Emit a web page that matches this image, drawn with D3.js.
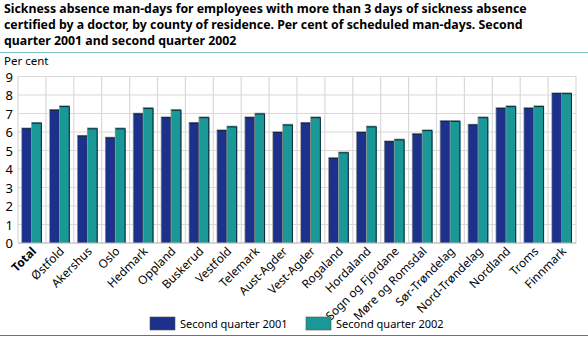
<!DOCTYPE html>
<html>
<head>
<meta charset="utf-8">
<script src="https://cdn.jsdelivr.net/npm/d3@7"></script>
<style>
  body { margin: 0; background: #fff; }
  text { font-family: "Noto Sans", "Open Sans", sans-serif; }
</style>
</head>
<body>
<div id="chart"></div>
<script>
// counties, Total first
var counties = ["Total", "Østfold", "Akershus", "Oslo", "Hedmark", "Oppland", "Buskerud", "Vestfold",
  "Telemark", "Aust-Agder", "Vest-Agder", "Rogaland", "Hordaland", "Sogn og Fjordane",
  "Møre og Romsdal", "Sør-Trøndelag", "Nord-Trøndelag", "Nordland", "Troms", "Finnmark"]

var q2001 = [6.2, 7.2, 5.8, 5.7, 7.0, 6.8, 6.5, 6.1, 6.8, 6.0, 6.5, 4.6, 6.0, 5.5, 5.9, 6.6, 6.4, 7.3, 7.3, 8.1]
var q2002 = [6.5, 7.4, 6.2, 6.2, 7.3, 7.2, 6.8, 6.3, 7.0, 6.4, 6.8, 4.9, 6.3, 5.6, 6.1, 6.6, 6.8, 7.4, 7.4, 8.1]

var seriesNames = ["Second quarter 2001", "Second quarter 2002"]
var seriesColors = ["#1b318b", "#1a9797"]
var yTicks = [0, 1, 2, 3, 4, 5, 6, 7, 8, 9]

var titleLines = ["Sickness absence man-days for employees with more than 3 days of sickness absence",
  "certified by a doctor, by county of residence. Per cent of scheduled man-days. Second",
  "quarter 2001 and second quarter 2002"]

var W = 588, H = 337
var plot = {left: 18, right: 576, top: 76.5, bottom: 243}

var svg = d3.select("#chart").append("svg")
  .attr("width", W).attr("height", H)

// title
svg.selectAll(".title")
  .data(titleLines)
  .enter()
  .append("text")
  .attr("class", "title")
  .attr("x", 4)
  .attr("y", function(d, i){ return 13 + i * 16 })
  .style("font-size", "12.3px")
  .style("font-weight", "bold")
  .attr("fill", "#000")
  .text(function(d){ return d })

svg.append("line")
  .attr("x1", 0).attr("x2", W).attr("y1", 52.5).attr("y2", 52.5)
  .attr("stroke", "#7cc2c2").attr("stroke-width", 1)

svg.append("text").text("Per cent")
  .attr("x", 4).attr("y", 65)
  .style("font-size", "11.5px")

var x = d3.scaleBand().domain(counties).range([plot.left, plot.right]).paddingInner(0.29).paddingOuter(0.145)
var xs = d3.scaleBand().domain([0, 1]).range([0, x.bandwidth()])
var y = d3.scaleLinear().domain([0, 9]).range([plot.bottom, plot.top])

// grid
svg.selectAll(".hgrid")
  .data(yTicks)
  .enter()
  .append("line")
  .attr("x1", plot.left).attr("x2", plot.right)
  .attr("y1", function(d){ return y(d) }).attr("y2", function(d){ return y(d) })
  .attr("stroke", "#d9d9d9").attr("stroke-width", 1.2)

var step = x.step()
svg.selectAll(".vgrid")
  .data(d3.range(counties.length + 1))
  .enter()
  .append("line")
  .attr("x1", function(d){ return plot.left + d * step })
  .attr("x2", function(d){ return plot.left + d * step })
  .attr("y1", plot.top).attr("y2", plot.bottom)
  .attr("stroke", "#d9d9d9").attr("stroke-width", 1.2)

// y axis labels
svg.selectAll(".ytick")
  .data(yTicks)
  .enter()
  .append("text")
  .attr("x", 13)
  .attr("y", function(d){ return y(d) + 5 })
  .attr("text-anchor", "end")
  .style("font-size", "13px")
  .text(function(d){ return d })

// bars
var rows = []
counties.forEach(function(c, i){
  rows.push({county: c, s: 0, v: q2001[i]})
  rows.push({county: c, s: 1, v: q2002[i]})
})

var bars = svg.selectAll(".bar")
  .data(rows)
  .enter()
  .append("g")
  .attr("transform", function(d){ return "translate(" + (x(d.county) + xs(d.s)) + ",0)" })

// soft grey edge behind each bar
bars.append("rect")
  .attr("x", -0.8)
  .attr("y", function(d){ return y(d.v) - 0.8 })
  .attr("width", xs.bandwidth() + 0.8)
  .attr("height", function(d){ return y(0) - y(d.v) + 0.8 })
  .attr("fill", "#9a9a9a")

bars.append("rect")
  .attr("y", function(d){ return y(d.v) })
  .attr("width", xs.bandwidth())
  .attr("height", function(d){ return y(0) - y(d.v) })
  .attr("fill", function(d){ return seriesColors[d.s] })

// dark top and right edges
bars.append("path")
  .attr("d", function(d){
    var w = xs.bandwidth()
    return "M0," + (y(d.v) + 0.5) + "H" + (w - 0.5) + "V" + y(0)
  })
  .attr("fill", "none")
  .attr("stroke", "#0d2a3a")
  .attr("stroke-width", 1)

// axis line
svg.append("line")
  .attr("x1", plot.left).attr("x2", plot.right)
  .attr("y1", plot.bottom).attr("y2", plot.bottom)
  .attr("stroke", "#bbb")

// x labels
svg.selectAll(".xlab")
  .data(counties)
  .enter()
  .append("text")
  .attr("transform", function(d){
    return "translate(" + (x(d) + x.bandwidth() / 2 + 5) + "," + (plot.bottom + 9) + ") rotate(-45)"
  })
  .attr("text-anchor", "end")
  .style("font-size", "11.8px")
  .style("font-weight", function(d){ return d == "Total" ? "bold" : "normal" })
  .text(function(d){ return d })

// legend
var legendX = [150, 306]
var legend = svg.selectAll(".legend")
  .data(seriesNames)
  .enter()
  .append("g")
  .attr("transform", function(d, i){ return "translate(" + legendX[i] + ",317)" })

legend.append("rect")
  .attr("width", 25).attr("height", 13)
  .attr("fill", function(d, i){ return seriesColors[i] })
  .attr("stroke", "#555").attr("stroke-width", 0.6)

legend.append("text")
  .attr("x", 30).attr("y", 11)
  .style("font-size", "11px")
  .text(function(d){ return d })

svg.append("line")
  .attr("x1", 0).attr("x2", W).attr("y1", 335.5).attr("y2", 335.5)
  .attr("stroke", "#1a9797").attr("stroke-width", 1.2)
</script>
</body>
</html>
